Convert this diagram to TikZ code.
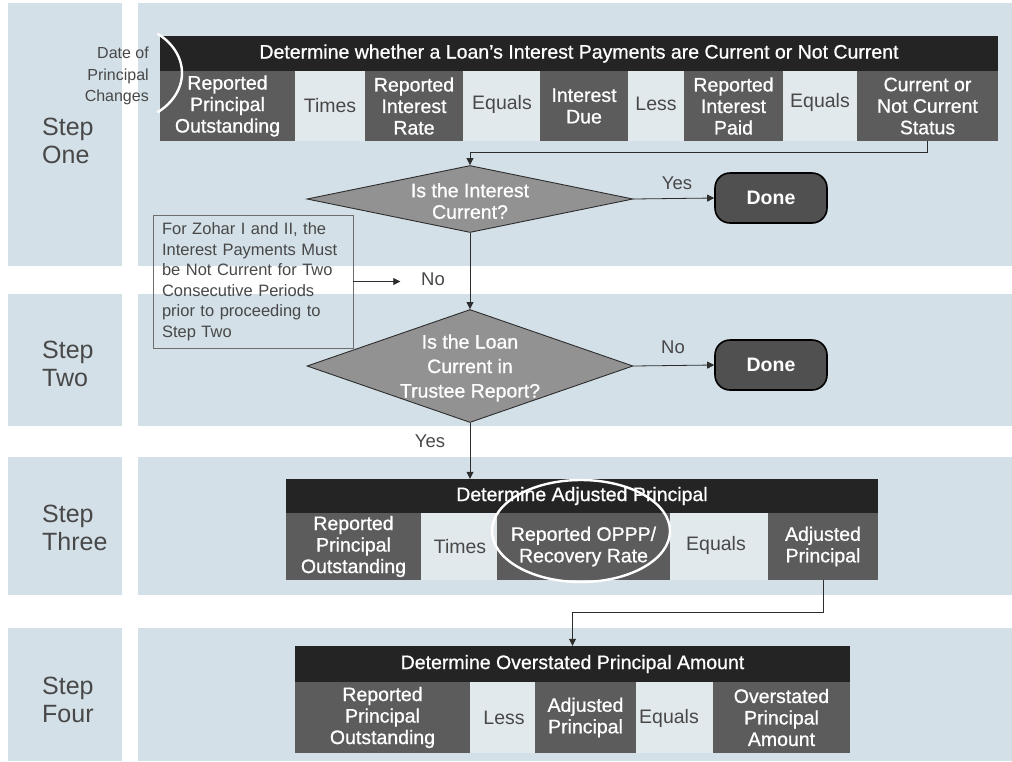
\documentclass[tikz,border=0pt]{standalone}
\usepackage{fontspec}
\setmainfont{Liberation Sans}
\newfontfamily\whitefam[FakeBold=0.8,Ligatures=TeX]{Liberation Sans}
\usetikzlibrary{shapes.geometric,arrows.meta,calc}
\definecolor{bandc}{RGB}{211,224,231}
\definecolor{rowc}{RGB}{226,233,237}
\definecolor{titlec}{RGB}{36,36,36}
\definecolor{boxc}{RGB}{92,92,92}
\definecolor{diac}{RGB}{146,146,146}
\definecolor{donec}{RGB}{80,80,80}
\definecolor{labelc}{RGB}{72,72,72}
\definecolor{linec}{RGB}{45,45,45}
\newcommand\boxfont{\whitefam\fontsize{19.5}{21.5}\selectfont}
\newcommand\opfont{\fontsize{19.5}{21.5}\selectfont}
\newcommand\stepfont{\fontsize{25}{28}\selectfont}
\newcommand\notefont{\fontsize{16.5}{20.5}\selectfont}
\newcommand\dpcfont{\fontsize{16}{21.5}\selectfont}
\tikzset{
  ttl/.style={fill=titlec, draw=none, text=white, font=\boxfont, inner sep=0pt},
  bx/.style={fill=boxc, draw=none, text=white, font=\boxfont, align=center, inner sep=0pt},
  opr/.style={text=labelc, font=\opfont, inner sep=0pt},
  dia/.style={diamond, fill=diac, draw=linec, line width=0.9pt, inner sep=0pt},
  dtext/.style={text=white, font=\boxfont, align=center, inner sep=0pt},
  donebox/.style={rectangle, rounded corners=15pt, fill=donec, draw=black, line width=1.6pt,
     text=white, font=\fontsize{19.5}{21.5}\selectfont\bfseries, minimum width=112, minimum height=50, inner sep=0pt},
  lbl/.style={text=labelc, font=\fontsize{18.5}{20}\selectfont, inner sep=0pt},
  steplbl/.style={text=labelc, font=\stepfont, align=left, anchor=west, inner sep=0pt},
  arr/.style={draw=linec, line width=0.8pt, -{Triangle[length=7pt,width=7pt]}},
  ring/.style={draw=white, line width=2.4pt},
}
\begin{document}
\begin{tikzpicture}[x=1pt,y=-1pt]
\useasboundingbox (0,0) rectangle (1012,761);
% background bands
\foreach \a/\b in {3/266, 294/426, 457/595, 628/761} {
  \fill[bandc] (8,\a) rectangle (122,\b);
  \fill[bandc] (138,\a) rectangle (1012,\b);
}
% step labels
\node[steplbl] (s1) at (42,141) {Step\\One};
\node[steplbl] (s2) at (42,364) {Step\\Two};
\node[steplbl] (s3) at (42,528) {Step\\Three};
\node[steplbl] (s4) at (42,700) {Step\\Four};

% ---------- Step One ----------
\fill[rowc] (160,71) rectangle (998,141);
\node[ttl, minimum width=838, minimum height=35] (t1) at (579,53.5)
  {Determine whether a Loan's Interest Payments are Current or Not Current};
\node[bx, minimum width=135, minimum height=70] (b11) at (227.5,106) {Reported\\Principal\\Outstanding};
\node[opr] (o11) at (330,106) {Times};
\node[bx, minimum width=98, minimum height=70] (b12) at (414,106) {Reported\\Interest\\Rate};
\node[opr] (o12) at (502,104) {Equals};
\node[bx, minimum width=88, minimum height=70] (b13) at (584,106) {Interest\\Due};
\node[opr] (o13) at (656,104) {Less};
\node[bx, minimum width=99, minimum height=70] (b14) at (733.5,106) {Reported\\Interest\\Paid};
\node[opr] (o14) at (820,102) {Equals};
\node[bx, minimum width=141, minimum height=70] (b15) at (927.5,106) {Current or\\Not Current\\Status};
\node[text=labelc, font=\dpcfont, align=right, anchor=east, inner sep=0pt] (dpc) at (149,76)
  {Date of\\Principal\\Changes};
\draw[ring] plot[domain=-52:52, samples=40] ({118+64*cos(\x)},{73+50*sin(\x)});

% ---------- Decisions ----------
\node[dia, minimum width=326, minimum height=67] (d1) at (470,199) {};
\node[dtext] (d1t) at (470,201) {Is the Interest\\Current?};
\node[donebox] (dn1) at (771,198) {Done};
\node[dia, minimum width=326, minimum height=113] (d2) at (470,366) {};
\node[dtext, font=\whitefam\fontsize{19.5}{24.5}\selectfont] (d2t) at (470,368) {Is the Loan\\Current in\\Trustee Report?};
\node[donebox] (dn2) at (771,365) {Done};

\node[draw=labelc!80, line width=0.6pt, text=labelc, font=\notefont, align=left,
      text width=182, inner xsep=9pt, inner ysep=0pt, minimum height=133] (note) at (253,281.5)
  {For Zohar I and II, the\\Interest Payments Must\\be Not Current for Two\\Consecutive Periods\\prior to proceeding to\\Step Two};

\draw[arr] (b15.south) -- ++(0,11) -| (d1.north);
\draw[arr] (d1.east) -- (dn1.west);
\node[lbl] (yes1) at (677,183) {Yes};
\draw[arr] (d1.south) -- (d2.north);
\node[lbl] (no1) at (433,279) {No};
\draw[arr] (note.east) -- ++(47,0);
\draw[arr] (d2.east) -- (dn2.west);
\node[lbl] (no2) at (673,347) {No};

% ---------- Step Three ----------
\fill[rowc] (286,513) rectangle (878,580);
\node[ttl, minimum width=592, minimum height=34] (t3) at (582,496) {Determine Adjusted Principal};
\node[bx, minimum width=135, minimum height=67] (b31) at (353.5,546.5) {Reported\\Principal\\Outstanding};
\node[opr] (o31) at (460,547) {Times};
\node[bx, minimum width=173, minimum height=67] (b32) at (583.5,546.5) {Reported OPPP/\\Recovery Rate};
\node[opr] (o32) at (716,545) {Equals};
\node[bx, minimum width=110, minimum height=67] (b33) at (823,546.5) {Adjusted\\Principal};
\draw[ring] (581,531) ellipse [x radius=89pt, y radius=51pt];
\draw[arr] (d2.south) -- (d2.south |- t3.north);
\node[lbl] (yes2) at (430,441) {Yes};

% ---------- Step Four ----------
\fill[rowc] (295,682) rectangle (850,753);
\node[ttl, minimum width=555, minimum height=36] (t4) at (572.5,664) {Determine Overstated Principal Amount};
\node[bx, minimum width=175, minimum height=71] (b41) at (382.5,717.5) {Reported\\Principal\\Outstanding};
\node[opr] (o41) at (504,718) {Less};
\node[bx, minimum width=101, minimum height=71] (b42) at (585.5,717.5) {Adjusted\\Principal};
\node[opr] (o42) at (669,718) {Equals};
\node[bx, minimum width=137, minimum height=71] (b43) at (781.5,717.5) {Overstated\\Principal\\Amount};
\draw[arr] (b33.south) -- ++(0,32) -| (t4.north);
\end{tikzpicture}
\end{document}
